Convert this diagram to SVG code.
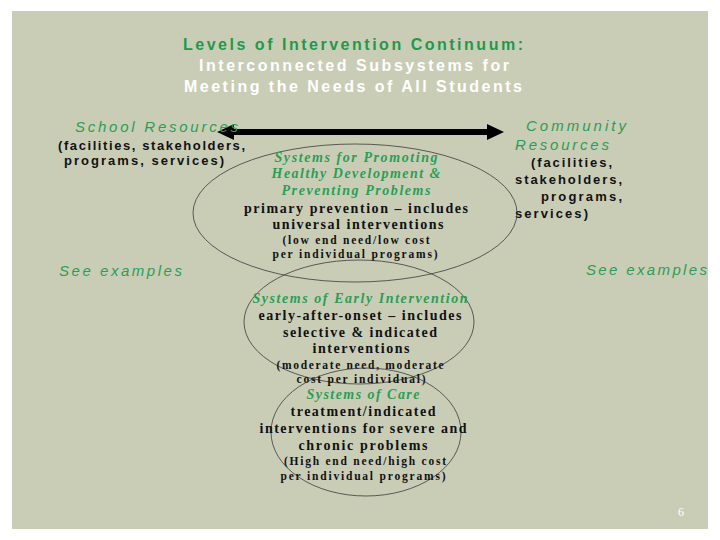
<svg xmlns="http://www.w3.org/2000/svg" width="720" height="540" viewBox="0 0 720 540">
<style>
.bg{fill:#CACDB6}
.title{font-family:"Liberation Sans",Arial,sans-serif;font-weight:bold;font-size:16px;text-anchor:middle}
.tg{fill:#1E9A48}
.tw{fill:#FFFFFF}
.gi{font-family:"Liberation Sans",Arial,sans-serif;font-style:italic;font-size:15px;fill:#2A9E55}
.bk{font-family:"Liberation Sans",Arial,sans-serif;font-weight:bold;font-size:13px;fill:#111111}
.sg{font-family:"Liberation Serif","Times New Roman",serif;font-weight:bold;font-style:italic;font-size:14px;fill:#2A9E55;text-anchor:middle}
.sb{font-family:"Liberation Serif","Times New Roman",serif;font-weight:bold;font-size:14px;fill:#111111;text-anchor:middle}
.ss{font-family:"Liberation Serif","Times New Roman",serif;font-weight:bold;font-size:11.5px;fill:#111111;text-anchor:middle}
.ell{fill:none;stroke:#3A3A3A;stroke-width:0.8}
.pg{font-family:"Liberation Serif","Times New Roman",serif;font-size:12px;fill:#FFFFFF}
</style>
<rect x="0" y="0" width="720" height="540" fill="#FFFFFF"/>
<rect class="bg" x="12" y="11" width="696" height="518"/>

<g id="title">
<text class="title tg" x="353" y="50" textLength="340" lengthAdjust="spacing">Levels of Intervention Continuum:</text>
<text class="title tw" x="354" y="71" textLength="310" lengthAdjust="spacing">Interconnected Subsystems for</text>
<text class="title tw" x="353" y="92" textLength="338" lengthAdjust="spacing">Meeting the Needs of All Students</text>
</g>

<g id="connectors">
<line x1="230" y1="132" x2="491" y2="132" stroke="#000000" stroke-width="6"/>
<polygon points="217,132 234,124 234,140" fill="#000000"/>
<polygon points="504,132 487,124 487,140" fill="#000000"/>
</g>

<g id="school-resources">
<text class="gi" x="75" y="132" textLength="163" lengthAdjust="spacing">School Resources</text>
<text class="bk" x="58" y="150" textLength="187" lengthAdjust="spacing">(facilities, stakeholders,</text>
<text class="bk" x="64" y="165" textLength="160" lengthAdjust="spacing">programs, services)</text>
<text class="gi" x="59" y="276" textLength="123" lengthAdjust="spacing">See examples</text>
</g>

<g id="community-resources">
<text class="gi" x="526" y="131" textLength="100" lengthAdjust="spacing">Community</text>
<text class="gi" x="515" y="150" textLength="94" lengthAdjust="spacing">Resources</text>
<text class="bk" x="531" y="167" textLength="81" lengthAdjust="spacing">(facilities,</text>
<text class="bk" x="515" y="184" textLength="107" lengthAdjust="spacing">stakeholders,</text>
<text class="bk" x="541" y="201" textLength="81" lengthAdjust="spacing">programs,</text>
<text class="bk" x="515" y="218" textLength="73" lengthAdjust="spacing">services)</text>
<text class="gi" x="586" y="275" textLength="121" lengthAdjust="spacing">See examples</text>
</g>

<g id="primary-prevention">
<ellipse class="ell" cx="355" cy="213" rx="162" ry="69"/>
<text class="sg" x="356" y="162" textLength="163" lengthAdjust="spacing">Systems for Promoting</text>
<text class="sg" x="356" y="178" textLength="169" lengthAdjust="spacing">Healthy Development &amp;</text>
<text class="sg" x="356" y="195" textLength="149" lengthAdjust="spacing">Preventing Problems</text>
<text class="sb" x="356" y="213" textLength="224" lengthAdjust="spacing">primary prevention – includes</text>
<text class="sb" x="358" y="229" textLength="171" lengthAdjust="spacing">universal interventions</text>
<text class="ss" x="356" y="244" textLength="147" lengthAdjust="spacing">(low end need/low cost</text>
<text class="ss" x="355" y="258" textLength="165" lengthAdjust="spacing">per individual programs)</text>
</g>

<g id="early-intervention">
<ellipse class="ell" cx="359" cy="322" rx="115" ry="62"/>
<text class="sg" x="360" y="303" textLength="215" lengthAdjust="spacing">Systems of Early Intervention</text>
<text class="sb" x="360" y="320" textLength="203" lengthAdjust="spacing">early-after-onset – includes</text>
<text class="sb" x="360" y="337" textLength="154" lengthAdjust="spacing">selective &amp; indicated</text>
<text class="sb" x="361" y="353" textLength="97" lengthAdjust="spacing">interventions</text>
<text class="ss" x="360" y="369" textLength="167" lengthAdjust="spacing">(moderate need, moderate</text>
<text class="ss" x="361" y="383" textLength="129" lengthAdjust="spacing">cost per individual)</text>
</g>

<g id="systems-of-care">
<ellipse class="ell" cx="366" cy="432" rx="95" ry="64"/>
<text class="sg" x="363" y="399" textLength="113" lengthAdjust="spacing">Systems of Care</text>
<text class="sb" x="363" y="416" textLength="145" lengthAdjust="spacing">treatment/indicated</text>
<text class="sb" x="363" y="433" textLength="207" lengthAdjust="spacing">interventions for severe and</text>
<text class="sb" x="363" y="450" textLength="129" lengthAdjust="spacing">chronic problems</text>
<text class="ss" x="365" y="465" textLength="162" lengthAdjust="spacing">(High end need/high cost</text>
<text class="ss" x="363" y="480" textLength="165" lengthAdjust="spacing">per individual programs)</text>
</g>

<text class="pg" x="678" y="516">6</text>
</svg>
